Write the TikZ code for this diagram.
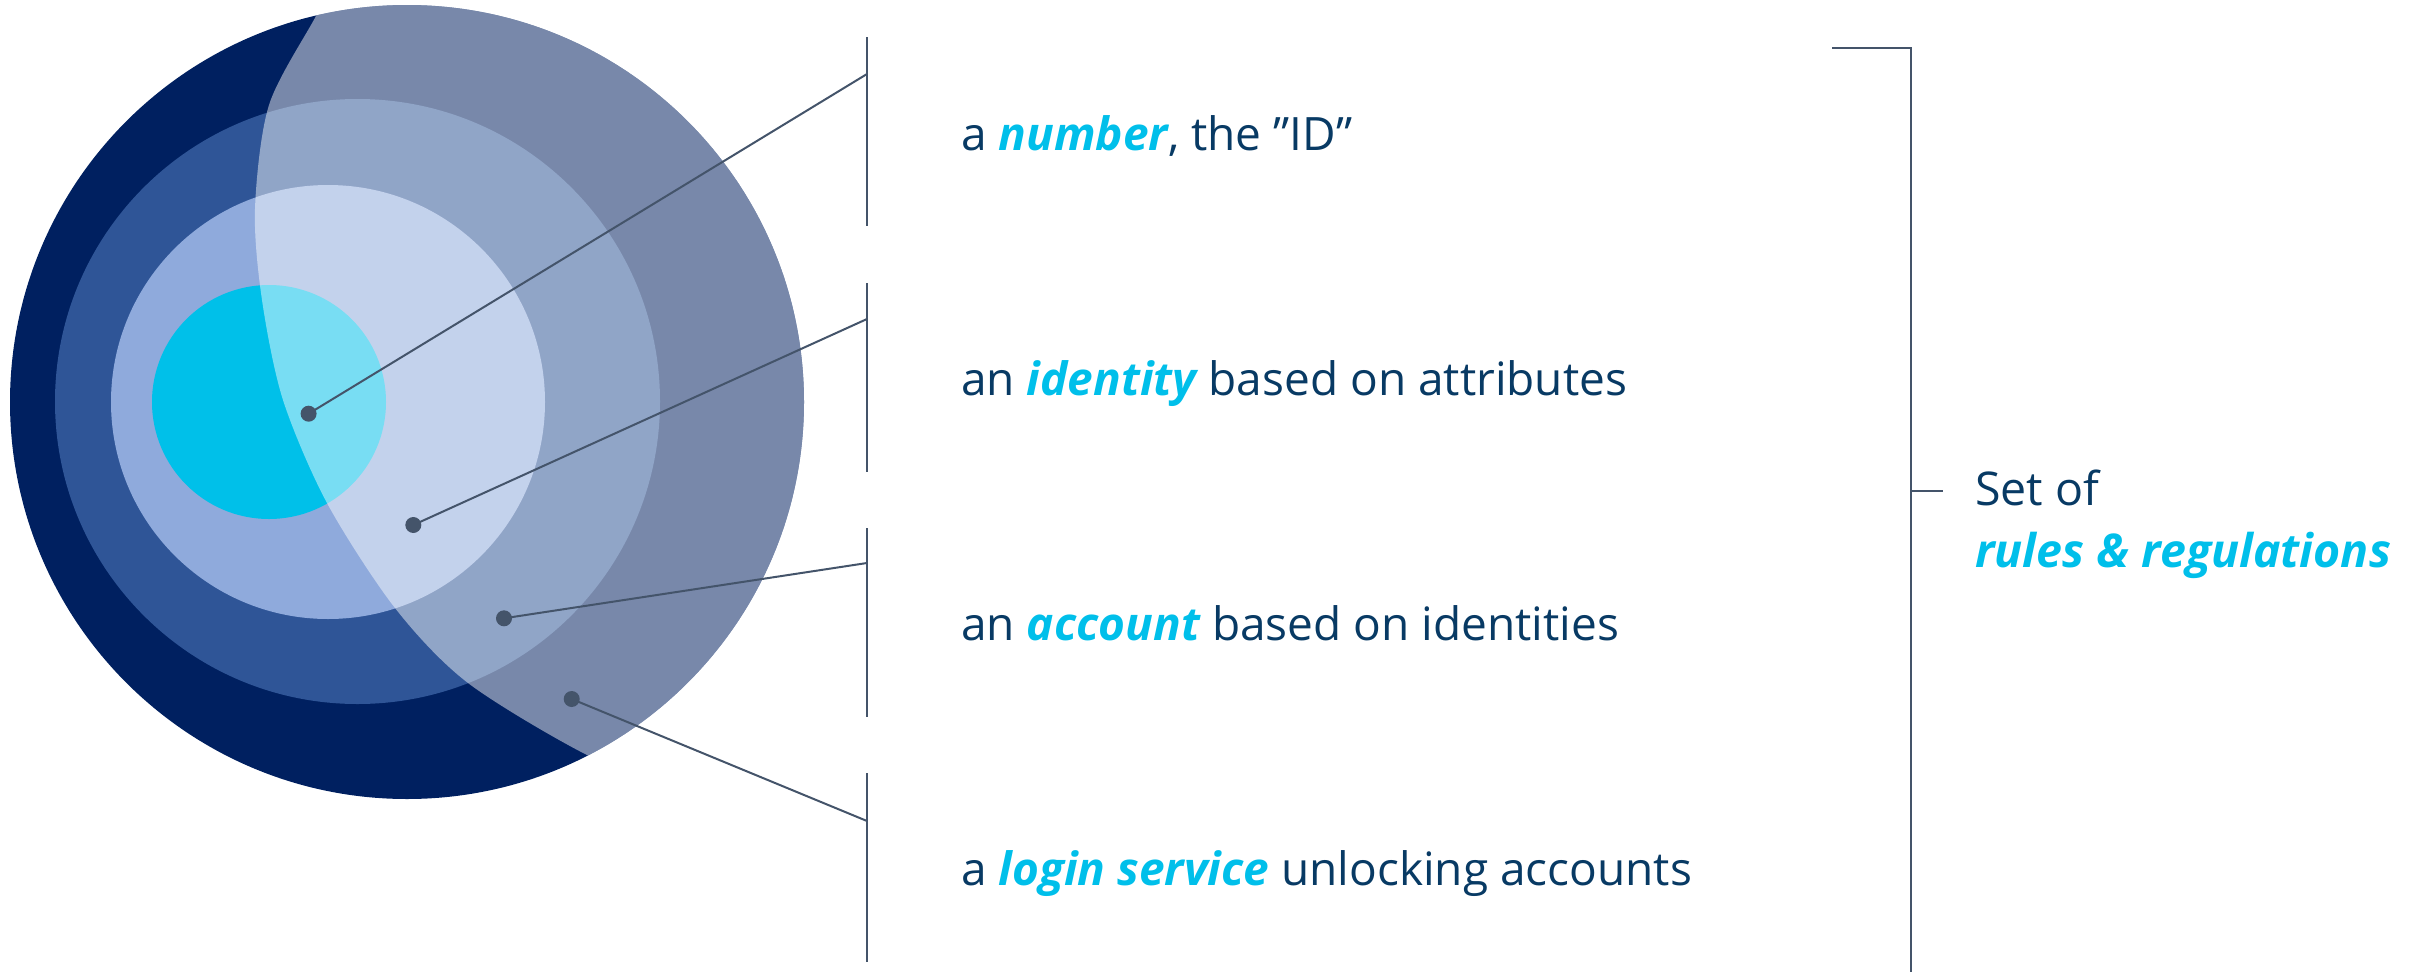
\documentclass[tikz,border=0pt]{standalone}
\usepackage{fontspec}
\setmainfont{Open Sans}
\definecolor{navy}{HTML}{002060}
\definecolor{midblue}{HTML}{2F5597}
\definecolor{lightblue}{HTML}{8FAADC}
\definecolor{cyanc}{HTML}{00C0E9}
\definecolor{linec}{HTML}{44546A}
\definecolor{textc}{HTML}{083A64}
\definecolor{emc}{HTML}{00BFEA}
\tikzset{
  connector/.style={draw=linec, line width=2pt},
  bracketline/.style={draw=linec, line width=2.5pt},
  dotnode/.style={circle, fill=linec, inner sep=0pt, minimum size=16pt},
  itemtext/.style={anchor=base west, inner sep=0pt, text=textc, font=\fontsize{46}{54}\selectfont},
  ruletext/.style={anchor=base west, inner sep=0pt, text=textc, font=\fontsize{46.5}{56}\selectfont},
}
\newcommand{\emw}[1]{\textcolor{emc}{\bfseries\itshape #1}}
\begin{document}
\begin{tikzpicture}[x=1pt,y=-1pt]
\useasboundingbox (0,0) rectangle (2423,972);
% circles
\fill[navy] (407,402) circle[radius=397];
\fill[midblue] (357.5,401.5) circle[radius=302.5];
\fill[lightblue] (328,402) circle[radius=217];
\fill[cyanc] (269,402) circle[radius=117];
% translucent overlay
\begin{scope}
  \clip (407,402) circle[radius=397];
  \fill[white, opacity=0.47] plot[smooth] coordinates {(345,-40) (316,16) (269,105) (255,209) (262,300) (283,400) (327,503) (395,608) (468,683) (587,755) (680,790)} -- (900,900) -- (900,-50) -- cycle;
\end{scope}
% dots
\node[dotnode] (d1) at (308.6,413.7) {};
\node[dotnode] (d2) at (413.3,525) {};
\node[dotnode] (d3) at (504,618.3) {};
\node[dotnode] (d4) at (571.7,699) {};
% bracket attach points
\coordinate (b1) at (867,74);
\coordinate (b2) at (867,319);
\coordinate (b3) at (867,563);
\coordinate (b4) at (867,821);
\coordinate (b1t) at (867,37);  \coordinate (b1b) at (867,226);
\coordinate (b2t) at (867,283); \coordinate (b2b) at (867,472);
\coordinate (b3t) at (867,528); \coordinate (b3b) at (867,717);
\coordinate (b4t) at (867,773); \coordinate (b4b) at (867,962);
\draw[connector] (d1.center) -- (b1);
\draw[connector] (d2.center) -- (b2);
\draw[connector] (d3.center) -- (b3);
\draw[connector] (d4.center) -- (b4);
\draw[bracketline] (b1t) -- (b1b);
\draw[bracketline] (b2t) -- (b2b);
\draw[bracketline] (b3t) -- (b3b);
\draw[bracketline] (b4t) -- (b4b);
% texts
\node[itemtext] (t1) at (961,150) {a \emw{number}, the ”ID”};
\node[itemtext] (t2) at (961,395) {an \emw{identity} based on attributes};
\node[itemtext] (t3) at (961,640) {an \emw{account} based on identities};
\node[itemtext] (t4) at (961,885) {a \emw{login service} unlocking accounts};
% right bracket
\coordinate (rl) at (1832,48);
\coordinate (rt) at (1911,48);
\coordinate (rb) at (1911,972);
\coordinate (rm) at (1911,491);
\coordinate (rmt) at (1943,491);
\draw[bracketline] (rl) -- (rt) -- (rb);
\draw[bracketline] (rm) -- (rmt);
\node[ruletext] (setof) at (1975,505) {Set of};
\node[ruletext] (rules) at (1975,567) {\emw{rules \& regulations}};
\end{tikzpicture}
\end{document}
